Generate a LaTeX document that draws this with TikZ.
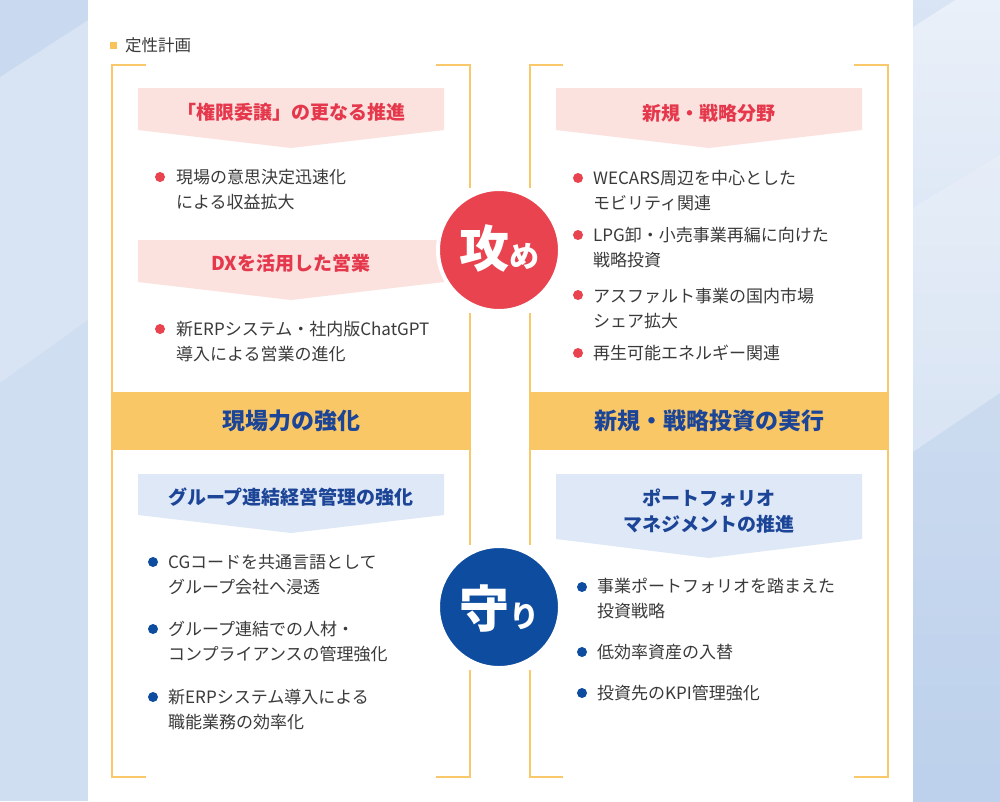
\documentclass[tikz,border=0pt]{standalone}
\usepackage{fontspec}
\setmainfont{Noto Sans CJK JP}
\definecolor{bgL}{HTML}{D8E4F4}
\definecolor{bgLtop}{HTML}{C9DAF0}
\definecolor{bgLbot}{HTML}{D0DEF2}
\definecolor{bgRtop}{HTML}{EAF0F9}
\definecolor{bgRbot}{HTML}{BDD1EC}
\definecolor{frameY}{HTML}{F9C86A}
\definecolor{bandY}{HTML}{F9C766}
\definecolor{pinkbox}{HTML}{FBE2DE}
\definecolor{bluebox}{HTML}{DFE8F6}
\definecolor{semeRed}{HTML}{E8434F}
\definecolor{titleRed}{HTML}{E5384C}
\definecolor{mamoriBlue}{HTML}{0D4C9F}
\definecolor{titleBlue}{HTML}{1C4598}
\definecolor{bodyGray}{HTML}{3A3A3A}
\definecolor{squareY}{HTML}{F9C25A}
\begin{document}
\begin{tikzpicture}[x=1pt,y=-1pt,
  frameline/.style={draw=frameY, line width=2pt},
  bodytext/.style={anchor=west, inner sep=0pt, align=left, text=bodyGray,
    font=\fontsize{17}{25}\selectfont},
  redtitle/.style={inner sep=0pt, align=center, text=titleRed,
    font=\fontsize{19}{26}\selectfont\bfseries},
  bluetitle/.style={inner sep=0pt, align=center, text=titleBlue,
    font=\fontsize{19}{26}\selectfont\bfseries},
  bandtitle/.style={inner sep=0pt, text=titleBlue,
    font=\fontsize{23}{26}\selectfont\bfseries},
  reddot/.style={circle, fill=semeRed, inner sep=0pt, minimum size=10pt},
  bluedot/.style={circle, fill=mamoriBlue, inner sep=0pt, minimum size=10pt},
  bigcircle/.style={circle, draw=white, line width=4pt, inner sep=0pt, minimum size=122pt},
  circletext/.style={anchor=base, inner sep=0pt, text=white, font=\bfseries}
]
\useasboundingbox (0,0) rectangle (1000,801);
% background sides
\fill[bgL] (0,0) rectangle (88,801);
\fill[bgLtop] (0,0) -- (88,0) -- (88,20) -- (0,77) -- cycle;
\fill[bgLbot] (0,383) -- (88,320) -- (88,801) -- (0,801) -- cycle;
\shade[top color=bgRtop, bottom color=bgRbot] (913,0) rectangle (1000,801);
\fill[bgLtop, opacity=0.5] (913,0) -- (955,0) -- (913,27) -- cycle;
\fill[white, opacity=0.18] (913,208) -- (1000,155) -- (1000,393) -- (913,452) -- cycle;
\fill[bgRbot, opacity=0.35] (913,452) -- (1000,393) -- (1000,801) -- (913,801) -- cycle;
% white panel
\fill[white] (88,0) rectangle (913,801);
% heading
\fill[squareY] (110,42) rectangle (117,49);
\node[anchor=west, inner sep=0pt, text=bodyGray, font=\fontsize{16.5}{17}\selectfont] (heading) at (125,45.5) {定性計画};
% frames
\draw[frameline] (146,65) -- (112,65) -- (112,777) -- (146,777);
\draw[frameline] (436,65) -- (470,65) -- (470,188);
\draw[frameline] (470,313) -- (470,545);
\draw[frameline] (470,670) -- (470,777) -- (436,777);
\draw[frameline] (563,65) -- (530,65) -- (530,188);
\draw[frameline] (530,313) -- (530,545);
\draw[frameline] (530,670) -- (530,777) -- (563,777);
\draw[frameline] (854,65) -- (888,65) -- (888,777) -- (854,777);
% bands
\fill[bandY] (111,392) rectangle (471,450);
\fill[bandY] (529,392) rectangle (889,450);
\node[bandtitle] (bandL) at (291,421) {現場力の強化};
\node[bandtitle] (bandR) at (709,421) {新規・戦略投資の実行};
% pink arrow boxes
\fill[pinkbox] (138,88) -- (444,88) -- (444,130) -- (291,148) -- (138,130) -- cycle;
\fill[pinkbox] (138,240) -- (444,240) -- (444,282) -- (291,300) -- (138,282) -- cycle;
\fill[pinkbox] (556,88) -- (862,88) -- (862,130) -- (709,148) -- (556,130) -- cycle;
% blue arrow boxes
\fill[bluebox] (138,474) -- (444,474) -- (444,515) -- (291,533) -- (138,515) -- cycle;
\fill[bluebox] (556,474) -- (862,474) -- (862,539) -- (709,558) -- (556,539) -- cycle;
% box titles
\node[redtitle] (t1) at (291,112) {「権限委譲」の更なる推進};
\node[redtitle] (t2) at (291,263) {DXを活用した営業};
\node[redtitle] (t3) at (709,113) {新規・戦略分野};
\node[bluetitle] (t4) at (291,497) {グループ連結経営管理の強化};
\node[bluetitle] (t5) at (709,511) {ポートフォリオ\\マネジメントの推進};
% left top bullets
\node[reddot] (d1) at (160,177) {};
\node[bodytext] (b1) at (176,189.5) {現場の意思決定迅速化\\による収益拡大};
\node[reddot] (d2) at (160,329) {};
\node[bodytext] (b2) at (176,341.5) {新ERPシステム・社内版ChatGPT\\導入による営業の進化};
% right top bullets
\node[reddot] (d3) at (578,178) {};
\node[bodytext] (b3) at (593,190.5) {WECARS周辺を中心とした\\モビリティ関連};
\node[reddot] (d4) at (578,235) {};
\node[bodytext] (b4) at (593,248) {LPG卸・小売事業再編に向けた\\戦略投資};
\node[reddot] (d5) at (578,295) {};
\node[bodytext] (b5) at (593,308) {アスファルト事業の国内市場\\シェア拡大};
\node[reddot] (d6) at (578,353) {};
\node[bodytext] (b6) at (593,353) {再生可能エネルギー関連};
% left bottom bullets
\node[bluedot] (d7) at (153,562) {};
\node[bodytext] (b7) at (168,575) {CGコードを共通言語として\\グループ会社へ浸透};
\node[bluedot] (d8) at (153,629) {};
\node[bodytext] (b8) at (168,642) {グループ連結での人材・\\コンプライアンスの管理強化};
\node[bluedot] (d9) at (153,697) {};
\node[bodytext] (b9) at (168,709.5) {新ERPシステム導入による\\職能業務の効率化};
% right bottom bullets
\node[bluedot] (d10) at (582,587) {};
\node[bodytext] (b10) at (597,598.5) {事業ポートフォリオを踏まえた\\投資戦略};
\node[bluedot] (d11) at (582,652) {};
\node[bodytext] (b11) at (597,652) {低効率資産の入替};
\node[bluedot] (d12) at (582,693) {};
\node[bodytext] (b12) at (597,693) {投資先のKPI管理強化};
% circles
\node[bigcircle, fill=semeRed] (seme) at (499,250) {};
\node[circletext] (semetxt) at (499,267) {\fontsize{50}{50}\selectfont 攻\fontsize{30}{30}\selectfont め};
\node[bigcircle, fill=mamoriBlue] (mamori) at (499,607) {};
\node[circletext] (mamoritxt) at (499,627) {\fontsize{50}{50}\selectfont 守\fontsize{30}{30}\selectfont り};
\end{tikzpicture}
\end{document}
